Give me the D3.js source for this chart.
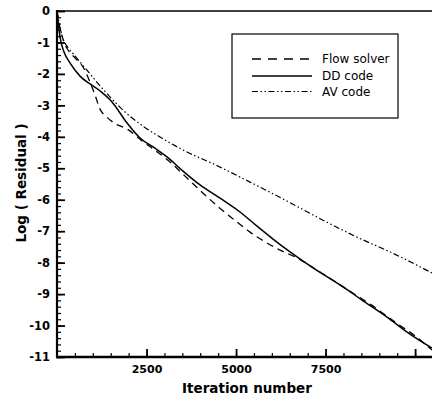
<!DOCTYPE html>
<html><head><meta charset="utf-8">
<script src="https://cdn.jsdelivr.net/npm/d3@7"></script>
<style>body{margin:0;background:#fff}svg{display:block}</style>
</head><body>
<svg id="c" width="432" height="399"></svg>
<script>
// ---- data ----
const seriesNames = ["Flow solver", "DD code", "AV code"];
const flowIter = [0,28,112,196,307,503,726,922,1061,1201,1397,1620,1955,2374,2765,3156,3575,4134,4609,5028,5391,5810,6229,6703,7346,8044,8743,9441,9999,10474];
const flowVal  = [0,-0.22,-0.67,-0.99,-1.24,-1.49,-1.78,-2.26,-2.67,-3.12,-3.38,-3.58,-3.75,-4.13,-4.45,-4.80,-5.25,-5.85,-6.33,-6.71,-7.03,-7.34,-7.60,-7.85,-8.30,-8.81,-9.32,-9.89,-10.33,-10.78];
const ddIter = [0,56,112,196,363,642,922,1201,1536,1955,2318,2737,3072,3519,3994,4553,5111,5586,6033,6508,7150,7904,8519,9217,9776,10474];
const ddVal  = [0,-0.60,-0.99,-1.30,-1.65,-2.07,-2.32,-2.54,-2.89,-3.56,-4.04,-4.36,-4.64,-5.09,-5.53,-5.95,-6.39,-6.84,-7.25,-7.66,-8.17,-8.71,-9.19,-9.73,-10.21,-10.72];
const avIter = [0,56,140,223,363,503,642,922,1201,1480,1899,2402,3016,3519,4441,5391,6368,7429,8379,9301,10474];
const avVal  = [0,-0.35,-0.79,-1.02,-1.24,-1.43,-1.62,-2.00,-2.38,-2.73,-3.21,-3.66,-4.10,-4.42,-4.90,-5.44,-6.01,-6.65,-7.19,-7.66,-8.33];
const yTickValues = [0,-1,-2,-3,-4,-5,-6,-7,-8,-9,-10,-11];
const xTickLabels = [2500,5000,7500];
const xMajorTicks = [2500,5000,7500,10000];
const xTitle = "Iteration number";
const yTitle = "Log ( Residual )";

// ---- layout ----
const svg = d3.select("#c");
const L = 57, R = 433, T = 11, B = 357;
const x = d3.scaleLinear().domain([0,10500]).range([L,R]);
const y = d3.scaleLinear().domain([0,-11]).range([T,B]);
const font = "'DejaVu Sans', sans-serif";

svg.append("defs").append("clipPath").attr("id","clip")
  .append("rect").attr("x",L).attr("y",T).attr("width",R-L+2).attr("height",B-T);

// frame top border
svg.append("line").attr("x1",L).attr("x2",440).attr("y1",T).attr("y2",T)
  .attr("stroke","#000").attr("stroke-width",1.6);

// minor ticks
const yMinor = d3.range(0,-11.0001,-0.2).map(v=>+v.toFixed(1));
const xMinor = d3.range(500,10500,500);
svg.append("g").attr("transform",`translate(${L},0)`)
  .call(d3.axisLeft(y).tickValues(yMinor).tickSize(-4).tickFormat(""))
  .call(g=>g.select(".domain").remove())
  .selectAll("line").attr("stroke-width",1.2);
svg.append("g").attr("transform",`translate(0,${B})`)
  .call(d3.axisBottom(x).tickValues(xMinor).tickSize(-4).tickFormat(""))
  .call(g=>g.select(".domain").remove())
  .selectAll("line").attr("stroke-width",1.2);

// major ticks + labels
const yAx = svg.append("g").attr("transform",`translate(${L},0)`)
  .call(d3.axisLeft(y).tickValues(yTickValues).tickSize(-8).tickPadding(7).tickFormat(d=>String(d)));
yAx.select(".domain").remove();
yAx.selectAll("line").attr("stroke-width",1.8);
yAx.selectAll("text").attr("font-family",font).attr("font-weight","bold").attr("font-size",11.5).attr("fill","#000");

const xAx = svg.append("g").attr("transform",`translate(0,${B})`)
  .call(d3.axisBottom(x).tickValues(xMajorTicks).tickSize(-8).tickPadding(8)
    .tickFormat(d=>xTickLabels.includes(d)?String(d):""));
xAx.select(".domain").remove();
xAx.selectAll("line").attr("stroke-width",1.8);
xAx.selectAll("text").attr("font-family",font).attr("font-weight","bold").attr("font-size",11).attr("fill","#000");

// axis lines
svg.append("line").attr("x1",L).attr("x2",L).attr("y1",T-1).attr("y2",B+1)
  .attr("stroke","#000").attr("stroke-width",2.2);
svg.append("line").attr("x1",L-1).attr("x2",440).attr("y1",B).attr("y2",B)
  .attr("stroke","#000").attr("stroke-width",2.4);

// curves
const line = d3.line().x(d=>x(d[0])).y(d=>y(d[1])).curve(d3.curveMonotoneX);
const styles = [
  {name:seriesNames[0], data:d3.zip(flowIter,flowVal), dash:"7,5", w:1.3},
  {name:seriesNames[1], data:d3.zip(ddIter,ddVal), dash:null, w:1.5},
  {name:seriesNames[2], data:d3.zip(avIter,avVal), dash:"6,2.5,1.5,2.5,1.5,2.5", w:1.2}
];
const gc = svg.append("g").attr("clip-path","url(#clip)");
styles.forEach(s=>{
  gc.append("path").datum(s.data).attr("d",line).attr("fill","none")
    .attr("stroke","#000").attr("stroke-width",s.w)
    .attr("stroke-dasharray",s.dash);
});

// legend
svg.append("rect").attr("x",232).attr("y",34).attr("width",166).attr("height",84)
  .attr("fill","#fff").attr("stroke","#000").attr("stroke-width",1.2);
const rows = [59,76,91.5];
styles.forEach((s,i)=>{
  svg.append("line").attr("x1",252).attr("x2",312).attr("y1",rows[i]).attr("y2",rows[i])
    .attr("stroke","#000").attr("stroke-width",s.w).attr("stroke-dasharray",i===0?"9,7":s.dash);
  svg.append("text").attr("x",322).attr("y",rows[i]+4).text(s.name)
    .attr("font-family",font).attr("font-size",12).attr("fill","#000");
});

// titles
svg.append("text").attr("x",247).attr("y",393).attr("text-anchor","middle")
  .attr("font-family",font).attr("font-weight","bold").attr("font-size",13.5).text(xTitle);
svg.append("text").attr("transform","translate(26,183) rotate(-90)").attr("text-anchor","middle")
  .attr("font-family",font).attr("font-weight","bold").attr("font-size",13.5).text(yTitle);
</script>
</body></html>
